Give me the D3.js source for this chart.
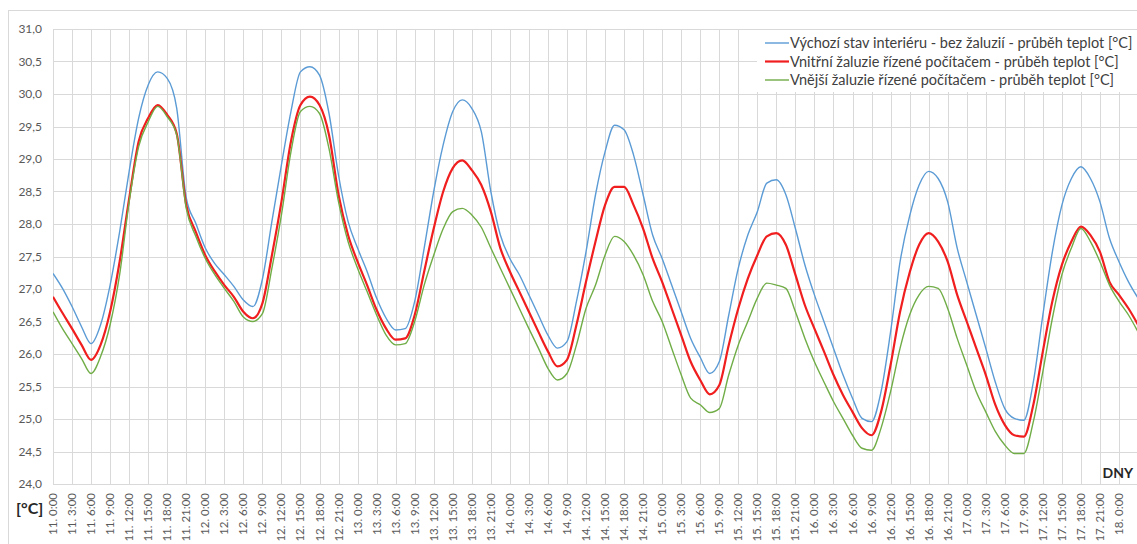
<!DOCTYPE html>
<html>
<head>
<meta charset="utf-8">
<script src="https://cdn.jsdelivr.net/npm/d3@7/dist/d3.min.js"></script>
<style>
  body { margin: 0; background: #fff; }
  svg { display: block; font-family: Lato, "Open Sans", sans-serif; }
</style>
</head>
<body>
<div class="chart"></div>
<script>
const width = 1137
const height = 544
const plot = ({left: 53, right: 1119, top: 29, bottom: 484})

// x axis categories: days and hours of the ticks
const days = [11, 12, 13, 14, 15, 16, 17, 18]
const tickHours = [0, 3, 6, 9, 12, 15, 18, 21]
const yTicks = [24.0, 24.5, 25.0, 25.5, 26.0, 26.5, 27.0, 27.5, 28.0, 28.5, 29.0, 29.5, 30.0, 30.5, 31.0]

const seriesNames = [
    'Výchozí stav interiéru - bez žaluzií - průběh teplot [°C]',
    'Vnitřní žaluzie řízené počítačem - průběh teplot [°C]',
    'Vnější žaluzie řízené počítačem - průběh teplot [°C]'
]
const seriesColors = ['#5b9bd5', '#f01e1e', '#70ad47']

// readings every 1.5 h from 11. 0:00
const hours = d3.range(0, 172, 1.5)

const blueValues = [
    27.24, 27.01, 26.73, 26.42, 26.16, 26.45, 27.06, 27.88,
    28.81, 29.63, 30.14, 30.34, 30.24, 29.78, 28.40, 28.01,
    27.63, 27.39, 27.22, 27.04, 26.83, 26.73, 27.15, 28.04,
    28.91, 29.73, 30.34, 30.42, 30.29, 29.70, 28.75, 28.04,
    27.63, 27.27, 26.86, 26.55, 26.37, 26.39, 26.81, 27.63,
    28.50, 29.22, 29.73, 29.91, 29.78, 29.42, 28.50, 27.83,
    27.47, 27.22, 26.91, 26.60, 26.29, 26.09, 26.19, 26.81,
    27.57, 28.45, 29.11, 29.52, 29.45, 29.06, 28.45, 27.83,
    27.47, 27.06, 26.65, 26.24, 25.95, 25.70, 25.88, 26.60,
    27.32, 27.83, 28.19, 28.63, 28.68, 28.45, 27.93, 27.37,
    26.91, 26.50, 26.09, 25.68, 25.32, 25.01, 24.96, 25.42,
    26.34, 27.42, 28.12, 28.60, 28.81, 28.70, 28.34, 27.63,
    27.11, 26.60, 26.09, 25.57, 25.16, 25.01, 24.98, 25.57,
    26.60, 27.57, 28.29, 28.70, 28.88, 28.70, 28.34, 27.78,
    27.42, 27.11, 26.86
]

const redValues = [
    26.88, 26.63, 26.39, 26.14, 25.91, 26.14, 26.65, 27.42,
    28.39, 29.27, 29.63, 29.83, 29.68, 29.39, 28.29, 27.88,
    27.52, 27.27, 27.06, 26.88, 26.65, 26.55, 26.78, 27.52,
    28.34, 29.27, 29.83, 29.96, 29.83, 29.37, 28.45, 27.83,
    27.42, 27.06, 26.68, 26.39, 26.22, 26.24, 26.60, 27.27,
    27.93, 28.50, 28.86, 28.98, 28.83, 28.60, 28.19, 27.63,
    27.27, 26.96, 26.65, 26.34, 26.04, 25.81, 25.91, 26.45,
    27.11, 27.73, 28.29, 28.57, 28.57, 28.29, 27.93, 27.47,
    27.11, 26.70, 26.29, 25.88, 25.60, 25.38, 25.52, 26.14,
    26.70, 27.16, 27.52, 27.81, 27.86, 27.68, 27.22, 26.75,
    26.39, 26.04, 25.68, 25.37, 25.11, 24.86, 24.75, 25.11,
    25.83, 26.65, 27.25, 27.68, 27.86, 27.73, 27.42, 26.91,
    26.50, 26.09, 25.68, 25.22, 24.91, 24.75, 24.73, 25.22,
    26.04, 26.81, 27.37, 27.73, 27.96, 27.83, 27.57, 27.11,
    26.91, 26.70, 26.45
]

const greenValues = [
    26.65, 26.39, 26.16, 25.93, 25.70, 25.96, 26.45, 27.22,
    28.34, 29.19, 29.57, 29.81, 29.65, 29.37, 28.24, 27.81,
    27.47, 27.22, 27.01, 26.81, 26.57, 26.50, 26.62, 27.32,
    28.14, 29.11, 29.73, 29.81, 29.70, 29.16, 28.34, 27.73,
    27.32, 26.96, 26.60, 26.29, 26.14, 26.16, 26.50, 27.06,
    27.52, 27.93, 28.19, 28.24, 28.14, 27.95, 27.63, 27.32,
    27.01, 26.70, 26.39, 26.09, 25.78, 25.60, 25.70, 26.14,
    26.70, 27.06, 27.52, 27.81, 27.73, 27.52, 27.22, 26.81,
    26.50, 26.09, 25.68, 25.32, 25.22, 25.10, 25.16, 25.68,
    26.14, 26.50, 26.86, 27.09, 27.06, 27.01, 26.65, 26.24,
    25.88, 25.57, 25.27, 25.01, 24.75, 24.55, 24.52, 24.86,
    25.42, 26.09, 26.60, 26.91, 27.04, 27.01, 26.70, 26.24,
    25.83, 25.42, 25.11, 24.81, 24.60, 24.47, 24.47, 24.96,
    25.73, 26.55, 27.22, 27.63, 27.93, 27.73, 27.42, 27.06,
    26.81, 26.60, 26.34
]

const seriesValues = [blueValues, redValues, greenValues]
const seriesWidths = [1.4, 2.2, 1.4]

// tick list: hour offset + label, up to 18. 0:00
const xTicks = []
days.forEach((d, i) => {
    tickHours.forEach(h => {
        if (i * 24 + h <= 168) xTicks.push({hour: i * 24 + h, label: `${d}. ${h}:00`})
    })
})

const x = d3.scaleLinear()
    .domain([0, 168])
    .range([plot.left, plot.right])

const y = d3.scaleLinear()
    .domain([24, 31])
    .range([plot.bottom, plot.top])

const cz = d3.formatLocale({decimal: ',', thousands: ' ', grouping: [3], currency: ['', ' Kč']})
const fmt = cz.format('.1f')

const svg = d3.select('.chart').append('svg')
    .attr('width', width)
    .attr('height', height)

svg.append('rect')
    .attr('width', width)
    .attr('height', height)
    .attr('fill', '#fff')

// chart area border
svg.append('rect')
    .attr('x', 8.5)
    .attr('y', 10.5)
    .attr('width', 1400)
    .attr('height', 800)
    .attr('fill', 'none')
    .attr('stroke', '#d9d9d9')

// grid continues past 18. 0:00 to the picture edge
const gridHours = d3.range(0, x.invert(width), 3)

// horizontal grid
svg.append('g')
    .selectAll('line')
    .data(yTicks)
    .join('line')
    .attr('x1', plot.left)
    .attr('x2', width)
    .attr('y1', d => Math.round(y(d)) + 0.5)
    .attr('y2', d => Math.round(y(d)) + 0.5)
    .attr('stroke', '#d9d9d9')
    .attr('stroke-width', 1)

// vertical grid
svg.append('g')
    .selectAll('line')
    .data(gridHours)
    .join('line')
    .attr('x1', d => Math.round(x(d)) + 0.5)
    .attr('x2', d => Math.round(x(d)) + 0.5)
    .attr('y1', plot.top)
    .attr('y2', plot.bottom)
    .attr('stroke', '#d9d9d9')
    .attr('stroke-width', 1)

// y labels
svg.append('g')
    .selectAll('text')
    .data(yTicks)
    .join('text')
    .attr('x', 42)
    .attr('y', d => y(d))
    .attr('dy', '0.35em')
    .attr('text-anchor', 'end')
    .attr('fill', '#595959')
    .style('font-size', '12px')
    .text(d => fmt(d))

// x labels (rotated)
svg.append('g')
    .selectAll('text')
    .data(xTicks)
    .join('text')
    .attr('transform', d => `translate(${x(d.hour)},${plot.bottom + 9}) rotate(-90)`)
    .attr('dy', '0.35em')
    .attr('text-anchor', 'end')
    .attr('fill', '#595959')
    .style('font-size', '11.5px')
    .text(d => d.label)

svg.append('text')
    .attr('x', 1133)
    .attr('y', 478)
    .attr('text-anchor', 'end')
    .attr('fill', '#262626')
    .style('font-size', '14px')
    .style('font-weight', 'bold')
    .text('DNY')

svg.append('text')
    .attr('x', 16)
    .attr('y', 514)
    .attr('fill', '#262626')
    .style('font-size', '16px')
    .style('font-weight', 'bold')
    .text('[°C]')

// lines
const line = d3.line()
    .x(d => x(d[0]))
    .y(d => y(d[1]))
    .curve(d3.curveMonotoneX)

svg.append('clipPath')
    .attr('id', 'clip')
    .append('rect')
    .attr('x', plot.left)
    .attr('y', plot.top - 5)
    .attr('width', width - plot.left)
    .attr('height', plot.bottom - plot.top + 10)

svg.append('g')
    .attr('clip-path', 'url(#clip)')
    .selectAll('path')
    .data(seriesValues)
    .join('path')
    .attr('d', vals => line(vals.map((v, i) => [hours[i], v])))
    .attr('fill', 'none')
    .attr('stroke', (d, i) => seriesColors[i])
    .attr('stroke-width', (d, i) => seriesWidths[i])
    .attr('stroke-linejoin', 'round')

// legend
const legend = svg.append('g')

legend.append('rect')
    .attr('x', 757)
    .attr('y', 30)
    .attr('width', width - 757)
    .attr('height', 62)
    .attr('fill', '#fff')

const rows = legend.selectAll('g.row')
    .data(seriesNames)
    .join('g')
    .attr('class', 'row')
    .attr('transform', (d, i) => `translate(765, ${43 + i * 18.5})`)

rows.append('line')
    .attr('x1', 0)
    .attr('x2', 24)
    .attr('stroke', (d, i) => seriesColors[i])
    .attr('stroke-width', (d, i) => seriesWidths[i])

rows.append('text')
    .attr('x', 25)
    .attr('dy', '0.35em')
    .attr('fill', '#404040')
    .style('font-size', '14.5px')
    .text(d => d)
</script>
</body>
</html>
